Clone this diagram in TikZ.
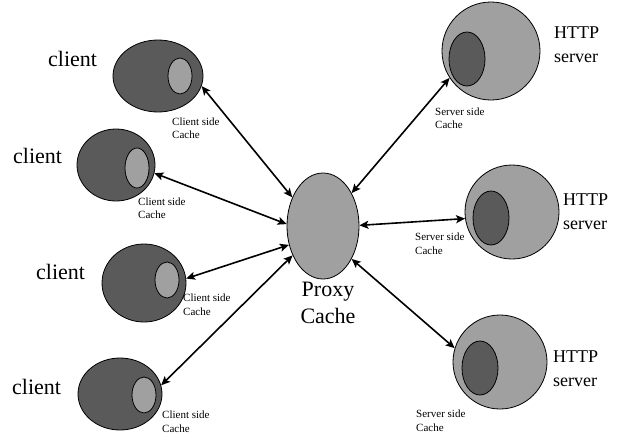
\documentclass[tikz,border=0pt]{standalone}
\usepackage{fontspec}
\setmainfont{Liberation Serif}
\usetikzlibrary{shapes.geometric,arrows.meta}
\definecolor{darkfill}{RGB}{90,90,90}
\definecolor{lightfill}{RGB}{160,160,160}
\tikzset{
  blob/.style={ellipse, draw=black, line width=0.8pt, inner sep=0pt},
  host/.style={blob, fill=darkfill},
  hostcache/.style={blob, fill=lightfill, minimum width=24pt, minimum height=36pt},
  proxyblob/.style={blob, fill=lightfill},
  srv/.style={circle, draw=black, line width=0.8pt, inner sep=0pt, fill=lightfill, minimum size=94pt},
  srvcache/.style={blob, fill=darkfill, minimum width=36pt, minimum height=54pt},
  link/.style={{Stealth[length=9pt,width=8pt,inset=2pt]}-{Stealth[length=9pt,width=8pt,inset=2pt]}, line width=1.6pt},
  bigtext/.style={inner sep=0pt, font=\fontsize{22}{27}\selectfont},
  srvtext/.style={inner sep=0pt, align=left, anchor=north west, font=\fontsize{18}{24}\selectfont},
  note/.style={inner sep=0pt, align=left, anchor=north west, font=\fontsize{11}{13.5}\selectfont}
}
\begin{document}
\begin{tikzpicture}[x=1pt,y=-1pt]
\useasboundingbox (0,0) rectangle (621,437);

% clients with their local caches
\node[host, minimum width=90pt, minimum height=72pt] (c1) at (158,76) {};
\node[hostcache] (c1c) at (180,76) {};
\node[host, minimum width=78pt, minimum height=72pt] (c2) at (116,165) {};
\node[hostcache, minimum height=40pt] (c2c) at (137,168) {};
\node[host, minimum width=84pt, minimum height=78pt] (c3) at (144,283) {};
\node[hostcache] (c3c) at (167,280) {};
\node[host, minimum width=84pt, minimum height=72pt] (c4) at (120,394) {};
\node[hostcache] (c4c) at (144,395) {};

\node[bigtext, anchor=base west] (t1) at (48,66) {client};
\node[bigtext, anchor=base west] (t2) at (13,163) {client};
\node[bigtext, anchor=base west] (t3) at (36,279) {client};
\node[bigtext, anchor=base west] (t4) at (12,394) {client};

\node[note] (n1) at (172,117.5) {Client side\\Cache};
\node[note] (n2) at (138,197.5) {Client side\\Cache};
\node[note] (n3) at (183,294) {Client side\\Cache};
\node[note] (n4) at (162,411) {Client side\\Cache};

% proxy
\node[proxyblob, minimum width=72pt, minimum height=106pt] (proxy) at (323,226) {};
\node[bigtext, align=center, anchor=north] (pt) at (328,282) {Proxy\\Cache};

% servers with their caches
\node[srv, minimum size=98pt] (s1) at (491,51) {};
\node[srvcache] (s1c) at (467,59) {};
\node[srv] (s2) at (512,212) {};
\node[srvcache] (s2c) at (491,218) {};
\node[srv] (s3) at (500,362) {};
\node[srvcache] (s3c) at (480,368) {};

\node[srvtext] (h1) at (554,27) {HTTP\\server};
\node[srvtext] (h2) at (563,194) {HTTP\\server};
\node[srvtext] (h3) at (553,351) {HTTP\\server};

\node[note] (m1) at (435,107.5) {Server side\\Cache};
\node[note] (m2) at (415,233) {Server side\\Cache};
\node[note] (m3) at (416,410) {Server side\\Cache};

% connections
\draw[link] (c1.-13) -- (proxy.137);
\draw[link] (c2.-12) -- (proxy.177);
\draw[link] (c3.6) -- (proxy.209);
\draw[link] (c4.12) -- (proxy.224);
\draw[link] (proxy.49) -- (s1.213);
\draw[link] (proxy.1) -- (s2.188);
\draw[link] (proxy.-49) -- (s3.163);
\end{tikzpicture}
\end{document}
